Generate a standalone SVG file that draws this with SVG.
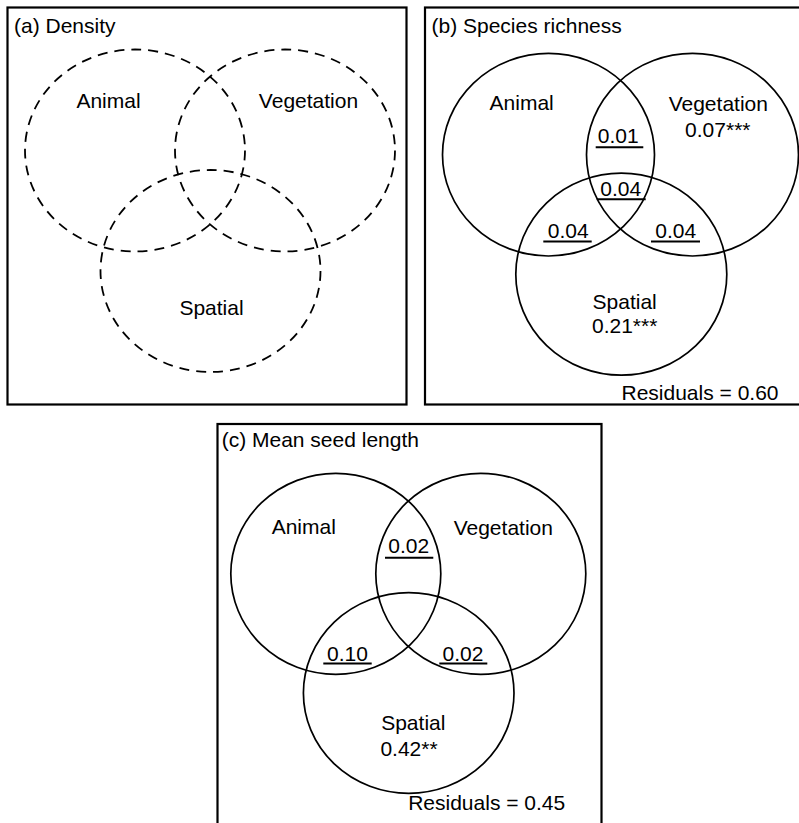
<svg xmlns="http://www.w3.org/2000/svg" width="799" height="823" viewBox="0 0 799 823">
<style>
text{font-family:"Liberation Sans",Arial,sans-serif;font-size:21px;fill:#000}
.m{text-anchor:middle}
.frame{fill:none;stroke:#000;stroke-width:2.2}
.c{fill:none;stroke:#000;stroke-width:1.7}
.d{fill:none;stroke:#000;stroke-width:1.8;stroke-dasharray:10 7}
.u{stroke:#000;stroke-width:2}
</style>
<rect width="799" height="823" fill="#fff"/>
<g id="panel-a">
<rect class="frame" x="7.5" y="7.5" width="399" height="397"/>
<text x="14" y="33">(a) Density</text>
<g id="a-animal"><ellipse class="d" cx="135" cy="150.5" rx="110" ry="101"/><text class="m" x="108.5" y="108">Animal</text></g>
<g id="a-vegetation"><ellipse class="d" cx="285" cy="150.5" rx="110" ry="101"/><text class="m" x="308.5" y="108">Vegetation</text></g>
<g id="a-spatial"><ellipse class="d" cx="210.5" cy="271" rx="110" ry="101"/><text class="m" x="211.5" y="315">Spatial</text></g>
</g>
<g id="panel-b">
<rect class="frame" x="425" y="7.5" width="380" height="397"/>
<text x="431.5" y="33">(b) Species richness</text>
<g id="b-animal"><ellipse class="c" cx="548.5" cy="154.7" rx="106" ry="101.3"/><text class="m" x="521.7" y="110">Animal</text></g>
<g id="b-vegetation"><ellipse class="c" cx="692.5" cy="154.7" rx="106" ry="101.3"/><text class="m" x="718.3" y="110.5">Vegetation</text><text class="m" x="717.8" y="136.5">0.07***</text></g>
<g id="b-spatial"><ellipse class="c" cx="621.3" cy="274.2" rx="105.5" ry="101"/><text class="m" x="624.7" y="309.3">Spatial</text><text class="m" x="624.7" y="333.3">0.21***</text></g>
<g id="b-labels">
<text class="m" x="618.3" y="143.3">0.01</text><line class="u" x1="595.7" y1="147.3" x2="643.3" y2="147.3"/>
<text class="m" x="620.8" y="195.7">0.04</text><line class="u" x1="596.7" y1="199.3" x2="645.7" y2="199.3"/>
<text class="m" x="568.3" y="238.3">0.04</text><line class="u" x1="543.3" y1="241.5" x2="591.7" y2="241.5"/>
<text class="m" x="675.8" y="238.3">0.04</text><line class="u" x1="651" y1="241.5" x2="700" y2="241.5"/>
<text class="m" x="700" y="400">Residuals = 0.60</text>
</g>
</g>
<g id="panel-c">
<rect class="frame" x="217.5" y="424" width="384" height="410"/>
<text x="221.7" y="447.3">(c) Mean seed length</text>
<g id="c-animal"><ellipse class="c" cx="335.8" cy="573.8" rx="105" ry="100.5"/><text class="m" x="303.8" y="534">Animal</text></g>
<g id="c-vegetation"><ellipse class="c" cx="480.8" cy="573.8" rx="105" ry="100.5"/><text class="m" x="503.3" y="535">Vegetation</text></g>
<g id="c-spatial"><ellipse class="c" cx="408.7" cy="693" rx="105.3" ry="100.3"/><text class="m" x="413.3" y="730">Spatial</text><text class="m" x="409" y="755.7">0.42**</text></g>
<g id="c-labels">
<text class="m" x="408.8" y="553.3">0.02</text><line class="u" x1="385" y1="557.7" x2="433.3" y2="557.7"/>
<text class="m" x="347.5" y="661">0.10</text><line class="u" x1="323.3" y1="663.5" x2="371.7" y2="663.5"/>
<text class="m" x="463" y="661">0.02</text><line class="u" x1="439.3" y1="663.5" x2="487.3" y2="663.5"/>
<text class="m" x="486.7" y="810">Residuals = 0.45</text>
</g>
</g>
<g id="connectors"/>
</svg>
